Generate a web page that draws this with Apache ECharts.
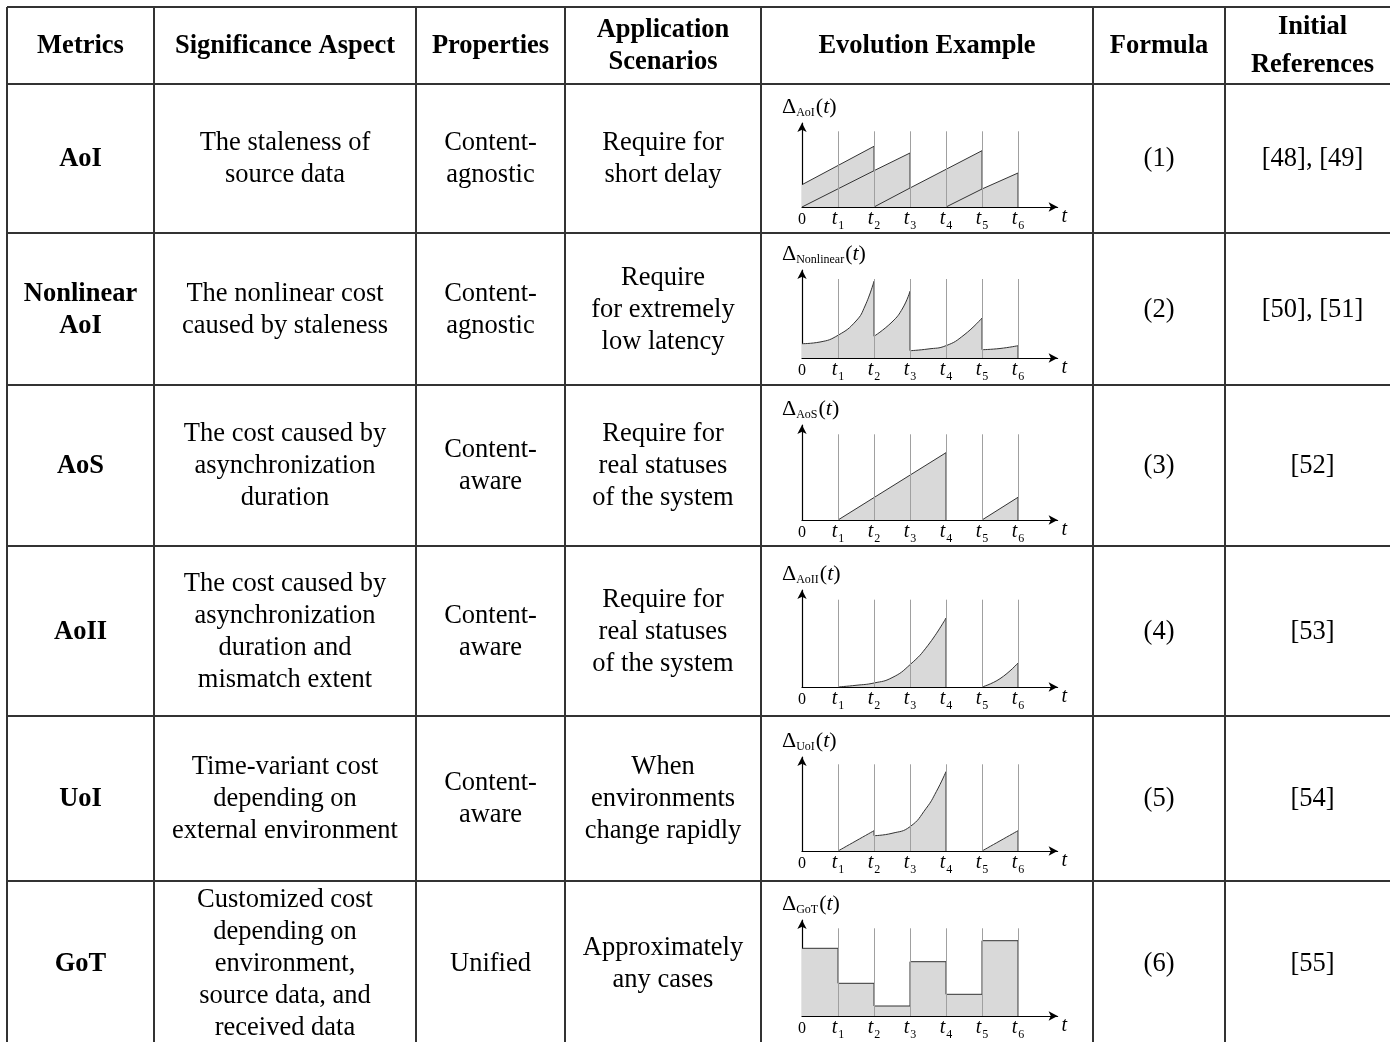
<!DOCTYPE html>
<html>
<head>
<meta charset="utf-8">
<title>Freshness metrics</title>
<script src="https://cdn.jsdelivr.net/npm/echarts@6.0.0/dist/echarts.min.js"></script>
<style>
  body{margin:0;background:#fff;}
  #main{width:1390px;height:1042px;}
</style>
</head>
<body>
<div id="main"></div>
<script>
  // table text
  let headers = ['Metrics', 'Significance Aspect', 'Properties', 'Application\nScenarios', 'Evolution Example', 'Formula', 'Initial\nReferences'];
  let metrics = ['AoI', 'Nonlinear\nAoI', 'AoS', 'AoII', 'UoI', 'GoT'];
  let aspects = [
    'The staleness of\nsource data',
    'The nonlinear cost\ncaused by staleness',
    'The cost caused by\nasynchronization\nduration',
    'The cost caused by\nasynchronization\nduration and\nmismatch extent',
    'Time-variant cost\ndepending on\nexternal environment',
    'Customized cost\ndepending on\nenvironment,\nsource data, and\nreceived data'
  ];
  let properties = ['Content-\nagnostic', 'Content-\nagnostic', 'Content-\naware', 'Content-\naware', 'Content-\naware', 'Unified'];
  let scenarios = [
    'Require for\nshort delay',
    'Require\nfor extremely\nlow latency',
    'Require for\nreal statuses\nof the system',
    'Require for\nreal statuses\nof the system',
    'When\nenvironments\nchange rapidly',
    'Approximately\nany cases'
  ];
  let formulas = ['(1)', '(2)', '(3)', '(4)', '(5)', '(6)'];
  let refs = ['[48], [49]', '[50], [51]', '[52]', '[53]', '[54]', '[55]'];

  // mini charts: subscript of the y name, tick labels
  let deltaSubs = ['AoI', 'Nonlinear', 'AoS', 'AoII', 'UoI', 'GoT'];
  let ticks = [1, 2, 3, 4, 5, 6];
  let tickSubs = ['0', '1', '2', '3', '4', '5', '6'];

  // curve pieces, x in t units, y in px of the small plot
  let aoiSegs = [[[0, 22.3], [2, 60.7]], [[2, 36.3], [3, 54]], [[3, 19], [5, 56.3]], [[5, 18], [6, 34]]];
  let aoiAges = [[[0, 0], [2, 36.3]], [[2, 0], [3, 19]], [[4, 0], [5, 18]]];
  let nonlinearSegs = [
    [[0, 14.3], [0.5, 16], [1, 22.7], [1.5, 37], [1.75, 52], [2, 76.7]],
    [[2, 21.7], [2.5, 36], [2.8, 50], [3, 66.7]],
    [[3, 7.3], [3.5, 9], [4, 12.3], [4.5, 23], [5, 40]],
    [[5, 8.3], [5.5, 9.5], [6, 12.3]]
  ];
  let aosSegs = [[[1, 0], [4, 67.3]], [[5, 0], [6, 22.7]]];
  let aoiiSegs = [
    [[1, 0], [1.5, 1.7], [2, 4], [2.5, 9.3], [3, 22.3], [3.5, 41.7], [4, 69]],
    [[5, 0], [5.5, 8.3], [6, 24]]
  ];
  let uoiSegs = [
    [[1, 0], [2, 20.3]],
    [[2, 15.3], [2.5, 17.7], [3, 24.3], [3.45, 42.7], [3.73, 59.3], [4, 79.3]],
    [[5, 0], [6, 20.3]]
  ];
  let gotLevels = [67.7, 32.7, 10, 54.3, 21.7, 75.3];
  let gotSegs = gotLevels.map((v, k) => [[k, v], [k + 1, v]]);

  let curves = [aoiSegs, nonlinearSegs, aosSegs, aoiiSegs, uoiSegs, gotSegs];
  let smooth = [false, true, false, true, true, false];
  let yMax = [84, 88, 95, 97, 94, 96];
  let guideTop = [75.7, 79, 85.7, 87.3, 86.7, 87.7];

  // layout
  let colX = [7, 154, 416, 565, 761, 1093, 1225, 1400];
  let rowY = [7, 84, 233, 385, 546, 716, 881, 1045];
  let axisY = [207, 358, 520, 687, 851, 1016];
  let plotLeft = 802, unitW = 36, xMax = 7.1;
  let serif = '"Liberation Serif", "Times New Roman", serif';

  let chart = echarts.init(document.getElementById('main'));

  let tickRich = {
    z: {fontFamily: serif, fontSize: 16, lineHeight: 20, padding: [3, 0, 0, 0], verticalAlign: 'top', color: '#000'},
    t: {fontFamily: serif, fontStyle: 'italic', fontSize: 20, lineHeight: 20, verticalAlign: 'top', color: '#000'},
    s: {fontFamily: serif, fontSize: 12, lineHeight: 12, padding: [11, 0, 0, 1], verticalAlign: 'top', color: '#000'}
  };
  let deltaRich = {
    d: {fontFamily: serif, fontSize: 22, lineHeight: 24, verticalAlign: 'top', fill: '#000'},
    s: {fontFamily: serif, fontSize: 12, lineHeight: 13, padding: [11, 1, 0, 0], verticalAlign: 'top', fill: '#000'},
    p: {fontFamily: serif, fontSize: 22, lineHeight: 24, verticalAlign: 'top', fill: '#000'},
    i: {fontFamily: serif, fontStyle: 'italic', fontSize: 22, lineHeight: 24, verticalAlign: 'top', fill: '#000'}
  };

  let grid = [], xAxis = [], yAxis = [], series = [];
  curves.forEach(function (segs, i) {
    grid.push({left: plotLeft, top: axisY[i] - yMax[i], width: unitW * xMax, height: yMax[i], outerBoundsMode: 'none'});
    xAxis.push({
      gridIndex: i, type: 'value', min: 0, max: xMax, interval: 1,
      axisLine: {show: true, symbol: ['none', 'arrow'], symbolSize: [7, 9], lineStyle: {color: '#000', width: 1.2}},
      axisTick: {show: false}, splitLine: {show: false},
      axisLabel: {
        margin: 2, color: '#000', rich: tickRich, showMaxLabel: false,
        formatter: function (v) {
          if (v === 0) return '{z|0}';
          if (v >= 1 && v <= 6) return '{t|t}{s|' + tickSubs[v] + '}';
          return '';
        }
      },
      name: 't', nameLocation: 'end', nameGap: 4,
      nameTextStyle: {fontFamily: serif, fontStyle: 'italic', fontSize: 20, lineHeight: 20, color: '#000', verticalAlign: 'top', padding: [0, 0, 0, 0]}
    });
    yAxis.push({
      gridIndex: i, type: 'value', min: 0, max: yMax[i],
      axisLine: {show: true, onZero: false, symbol: ['none', 'arrow'], symbolSize: [7, 9], lineStyle: {color: '#000', width: 1.2}},
      axisTick: {show: false}, axisLabel: {show: false}, splitLine: {show: false}
    });
    // shaded pieces
    segs.forEach(function (seg) {
      series.push({
        type: 'line', xAxisIndex: i, yAxisIndex: i, data: seg, smooth: smooth[i] ? 0.5 : false,
        symbol: 'none', silent: true, z: 2,
        lineStyle: {color: '#333', width: 1},
        areaStyle: {color: '#d9d9d9', opacity: 1}
      });
    });
    // vertical drops between pieces
    segs.forEach(function (seg, k) {
      let end = seg[seg.length - 1];
      let next = segs[k + 1];
      let to = (next && next[0][0] === end[0]) ? next[0][1] : 0;
      series.push({
        type: 'line', xAxisIndex: i, yAxisIndex: i, data: [end, [end[0], to]],
        symbol: 'none', silent: true, z: 4, lineStyle: {color: '#333', width: 1}
      });
    });
    // guide lines at t1..t6
    series.push({
      type: 'line', xAxisIndex: i, yAxisIndex: i, data: [], z: 3, silent: true,
      markLine: {
        silent: true, symbol: ['none', 'none'], label: {show: false},
        lineStyle: {color: '#a0a0a0', width: 1, type: 'solid'},
        emphasis: {disabled: true},
        data: ticks.map(t => [{coord: [t, 0]}, {coord: [t, guideTop[i]]}])
      }
    });
  });
  // the age lines under the AoI sawtooth
  aoiAges.forEach(function (seg) {
    series.push({
      type: 'line', xAxisIndex: 0, yAxisIndex: 0, data: seg,
      symbol: 'none', silent: true, z: 4, lineStyle: {color: '#333', width: 1}
    });
  });

  // table lines and texts
  let elements = [];
  rowY.slice(0, 7).forEach(function (y) {
    elements.push({type: 'line', silent: true, shape: {x1: colX[0], y1: y, x2: 1390, y2: y}, style: {stroke: '#333', lineWidth: 2}});
  });
  colX.slice(0, 7).forEach(function (x) {
    elements.push({type: 'line', silent: true, shape: {x1: x, y1: rowY[0], x2: x, y2: 1042}, style: {stroke: '#333', lineWidth: 2}});
  });
  function cellText(text, c, r, bold, lh) {
    elements.push({
      type: 'text', silent: true,
      x: (colX[c] + colX[c + 1]) / 2, y: (rowY[r] + rowY[r + 1]) / 2 + 1,
      style: {
        text: text, align: 'center', verticalAlign: 'middle', fill: '#000',
        fontFamily: serif, fontSize: 26.5, fontWeight: bold ? 'bold' : 'normal', lineHeight: lh || 32
      }
    });
  }
  headers.forEach((h, c) => cellText(h, c, 0, true, c === 6 ? 38 : 32));
  for (let r = 0; r < 6; r++) {
    cellText(metrics[r], 0, r + 1, true);
    cellText(aspects[r], 1, r + 1);
    cellText(properties[r], 2, r + 1);
    cellText(scenarios[r], 3, r + 1);
    cellText(formulas[r], 5, r + 1);
    cellText(refs[r], 6, r + 1);
    elements.push({
      type: 'text', silent: true,
      x: 782, y: axisY[r] - yMax[r] - 15,
      style: {
        text: '{d|Δ}{s|' + deltaSubs[r] + '}{p|(}{i|t}{p|)}', rich: deltaRich,
        align: 'left', verticalAlign: 'middle'
      }
    });
  }

  chart.setOption({
    animation: false,
    backgroundColor: '#fff',
    grid: grid,
    xAxis: xAxis,
    yAxis: yAxis,
    series: series,
    graphic: {elements: elements}
  });
</script>
</body>
</html>
